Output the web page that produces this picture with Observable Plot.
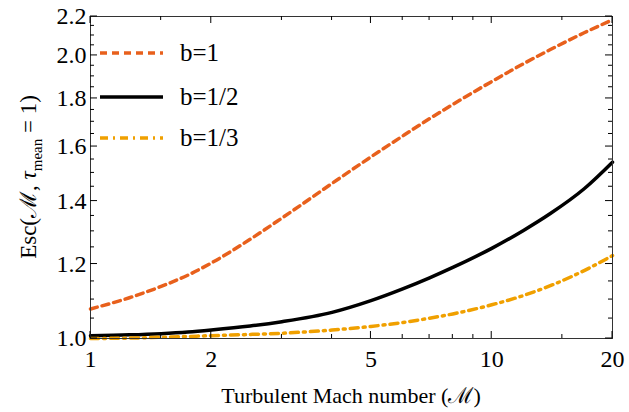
<!DOCTYPE html>
<html><head><meta charset="utf-8">
<script src="https://cdn.jsdelivr.net/npm/d3@7"></script>
<script src="https://cdn.jsdelivr.net/npm/@observablehq/plot@0.6"></script>
<style>
body{margin:0;background:#fff;}
svg{font-family:"Liberation Serif","Times New Roman",serif;}
</style>
</head><body><div id="chart"></div>
<script>
// Turbulent Mach number samples
const mach  = [1, 1.25, 1.5, 1.75, 2, 2.5, 3, 4, 5, 6, 7, 8, 10, 12, 14, 17, 20];
// Esc(M, tau_mean = 1) for each b
const escB1 = [1.075, 1.105, 1.136, 1.168, 1.203, 1.275, 1.343, 1.462, 1.560, 1.642, 1.713, 1.774, 1.876, 1.960, 2.029, 2.114, 2.182];
const escB2 = [1.007, 1.009, 1.012, 1.016, 1.021, 1.031, 1.042, 1.066, 1.097, 1.129, 1.160, 1.190, 1.247, 1.303, 1.358, 1.443, 1.540];
const escB3 = [1.000, 1.001, 1.003, 1.005, 1.007, 1.010, 1.013, 1.021, 1.030, 1.040, 1.051, 1.062, 1.086, 1.111, 1.138, 1.181, 1.225];
const seriesNames  = ["b=1", "b=1/2", "b=1/3"];
const seriesColors = ["#e8601c", "#000000", "#f0a000"];
const seriesDash   = ["7,5", "none", "8,5,2,5"];
const xMajor = [1, 2, 5, 10, 20];
const xMinor = [1.5, 3, 4, 6, 7, 8, 9, 15];
const yMajor = [1.0, 1.2, 1.4, 1.6, 1.8, 2.0, 2.2];
const yMinor = [1.05, 1.1, 1.15, 1.25, 1.3, 1.35, 1.45, 1.5, 1.55, 1.65, 1.7, 1.75, 1.85, 1.9, 1.95, 2.05, 2.1, 2.15];
const xTitle = "Turbulent Mach number (ℳ)";

const seriesValues = [escB1, escB2, escB3];
const rows = seriesNames.flatMap((s, k) => mach.map((m, i) => ({m, v: seriesValues[k][i], s})));

const plot = Plot.plot({
  width: 629, height: 412,
  marginLeft: 90, marginRight: 17, marginTop: 16, marginBottom: 74,
  style: {fontFamily: "Liberation Serif, Times New Roman, serif", fontSize: "24px", color: "#000", background: "#fff"},
  x: {type: "log", domain: [1, 20], label: null},
  y: {type: "log", domain: [1, 2.2], label: null},
  marks: [
    Plot.axisX({anchor: "bottom", ticks: xMajor, tickSize: 0, tickPadding: 11, tickFormat: d => String(d), label: null}),
    Plot.axisY({anchor: "left", ticks: yMajor, tickSize: 0, tickPadding: 4, tickFormat: d => d.toFixed(1), label: null}),
    ...seriesNames.map((s, k) => Plot.line(rows.filter(r => r.s === s), {
      x: "m", y: "v", stroke: seriesColors[k], strokeWidth: 3.5,
      strokeDasharray: seriesDash[k], curve: "monotone-x"
    })),
    Plot.frame({stroke: "#333", strokeWidth: 1})
  ]
});
document.getElementById("chart").appendChild(plot);

const svg = d3.select(plot);
const sx = plot.scale("x"), sy = plot.scale("y");
const [x0, x1] = sx.range, [y0, y1] = sy.range; // y0 bottom, y1 top
// inward ticks on all four sides, through the plot's scales
const tg = svg.append("g").attr("stroke", "#000").attr("stroke-width", 1);
const xt = [...xMajor.map(v => [v, 7]), ...xMinor.map(v => [v, 4])];
xt.forEach(([v, len]) => {
  const px = sx.apply(v);
  tg.append("line").attr("x1", px).attr("x2", px).attr("y1", y0).attr("y2", y0 - len);
  tg.append("line").attr("x1", px).attr("x2", px).attr("y1", y1).attr("y2", y1 + len);
});
const yt2 = [...yMajor.map(v => [v, 7]), ...yMinor.map(v => [v, 4])];
yt2.forEach(([v, len]) => {
  const py = sy.apply(v);
  tg.append("line").attr("y1", py).attr("y2", py).attr("x1", x0).attr("x2", x0 + len);
  tg.append("line").attr("y1", py).attr("y2", py).attr("x1", x1).attr("x2", x1 - len);
});
// x-axis title
svg.append("text").attr("x", (x0 + x1) / 2).attr("y", 403).attr("text-anchor", "middle")
  .attr("font-size", 22).attr("fill", "#000").text(xTitle);
// y-axis title with subscript
const yt = svg.append("text").attr("transform", `translate(36,${(y0 + y1) / 2}) rotate(-90)`)
  .attr("text-anchor", "middle").attr("font-size", 23).attr("fill", "#000");
yt.append("tspan").text("Esc(ℳ, ");
yt.append("tspan").attr("font-style", "italic").text("τ");
yt.append("tspan").attr("font-size", 15).attr("dy", 6).text("mean");
yt.append("tspan").attr("dy", -6).text(" = 1)");
// legend
const legY = [53, 97, 138];
const leg = svg.append("g");
seriesNames.forEach((s, k) => {
  leg.append("line").attr("x1", 100).attr("x2", 163).attr("y1", legY[k]).attr("y2", legY[k])
    .attr("stroke", seriesColors[k]).attr("stroke-width", 3.5).attr("stroke-dasharray", seriesDash[k]);
  leg.append("text").attr("x", 180).attr("y", legY[k] + 8).attr("text-anchor", "start")
    .attr("font-size", 25).attr("fill", "#000").text(s);
});
</script>
</body></html>
